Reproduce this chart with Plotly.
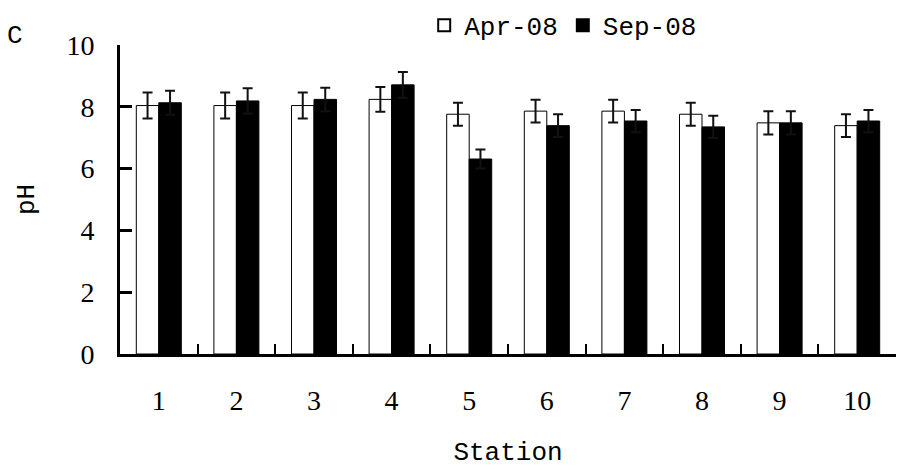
import plotly.graph_objects as go

stations = ["1", "2", "3", "4", "5", "6", "7", "8", "9", "10"]
apr_ph = [8.04, 8.04, 8.04, 8.24, 7.76, 7.86, 7.86, 7.76, 7.48, 7.39]
apr_err = [0.42, 0.42, 0.42, 0.40, 0.37, 0.37, 0.37, 0.37, 0.38, 0.37]
sep_ph = [8.13, 8.19, 8.24, 8.71, 6.31, 7.39, 7.54, 7.35, 7.48, 7.54]
sep_err = [0.39, 0.41, 0.38, 0.42, 0.31, 0.37, 0.36, 0.36, 0.38, 0.36]
y_ticks = [0, 2, 4, 6, 8, 10]

MONO = "Liberation Mono"
SERIF = "Liberation Serif"

fig = go.Figure()
fig.add_trace(go.Bar(
    x=stations, y=apr_ph, name="Apr-08",
    marker=dict(color="white", line=dict(color="black", width=1)),
    error_y=dict(type="data", array=apr_err, visible=True, color="#111", thickness=2, width=5),
))
fig.add_trace(go.Bar(
    x=stations, y=sep_ph, name="Sep-08",
    marker=dict(color="black", line=dict(color="black", width=1)),
    error_y=dict(type="data", array=sep_err, visible=True, color="#111", thickness=2, width=5),
))

fig.update_layout(
    width=897, height=468,
    margin=dict(l=120, r=1, t=45, b=114),
    paper_bgcolor="white", plot_bgcolor="white",
    barmode="group", bargap=0.42, bargroupgap=0,
    showlegend=True,
    legend=dict(orientation="h", x=0.392, xanchor="left", y=1.14, yanchor="top",
                font=dict(family=MONO, size=26, color="black"),
                bgcolor="rgba(0,0,0,0)", itemsizing="constant", tracegroupgap=0,
                itemwidth=30),
    xaxis=dict(
        type="category", showline=True, linecolor="black", linewidth=3,
        ticks="inside", tickson="boundaries", ticklen=10, tickwidth=2, tickcolor="black",
        tickfont=dict(family=SERIF, size=28, color="black"), ticklabelstandoff=19,
        title=dict(text="Station", font=dict(family=MONO, size=26, color="black"), standoff=33),
        showgrid=False, zeroline=False,
    ),
    yaxis=dict(
        range=[0, 10], tickvals=y_ticks, showline=True, linecolor="black", linewidth=3,
        ticks="inside", ticklen=12, tickwidth=3, tickcolor="black",
        tickfont=dict(family=SERIF, size=28, color="black"), ticklabelstandoff=17,
        title=dict(text="pH", font=dict(family=MONO, size=26, color="black"), standoff=25),
        showgrid=False, zeroline=False,
    ),
    annotations=[dict(text="C", x=(15 - 120) / 776, y=(354 - 36) / 309, xref="paper", yref="paper",
                      xanchor="center", yanchor="middle", showarrow=False,
                      font=dict(family=MONO, size=26, color="black"))],
)

fig.write_html("out.html")
